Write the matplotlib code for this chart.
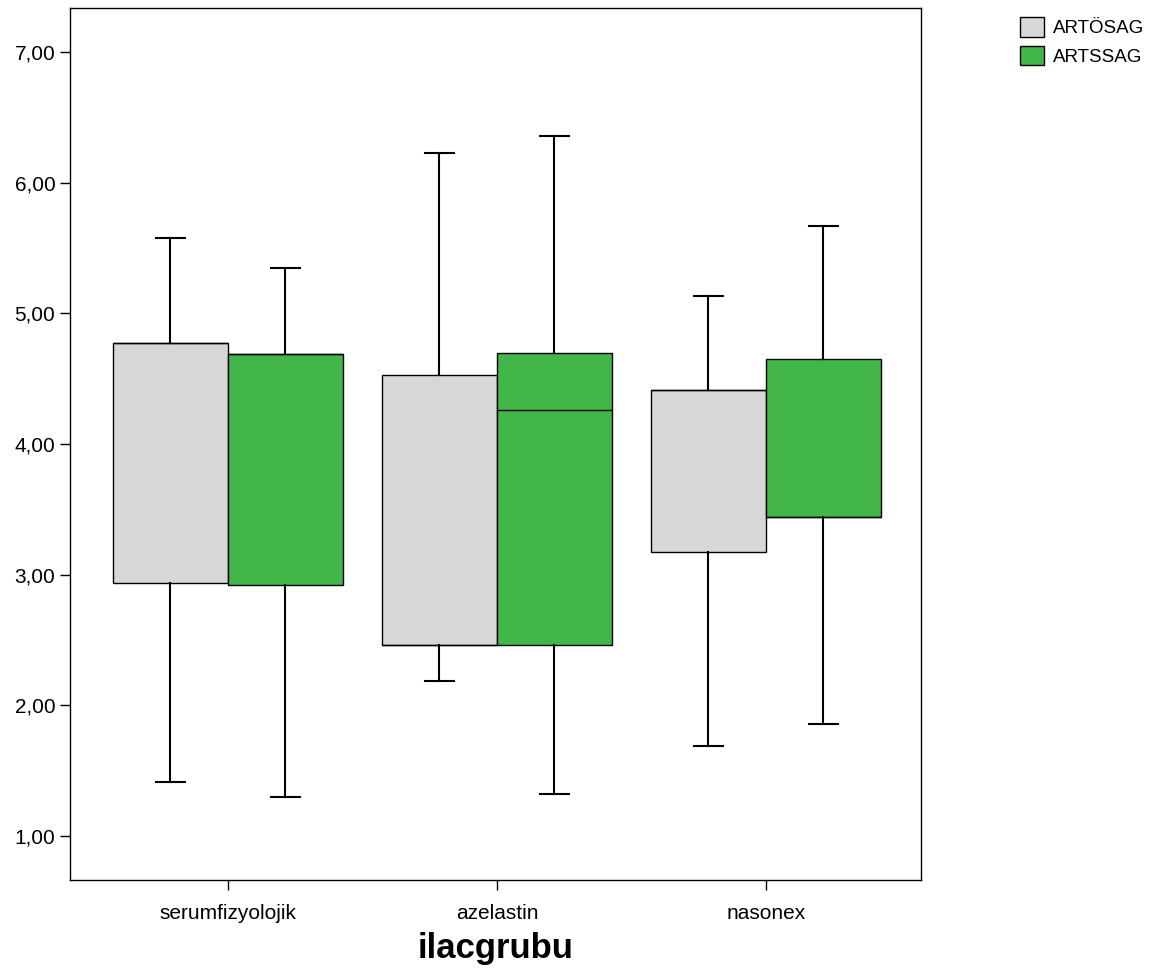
import matplotlib.pyplot as plt
from matplotlib.patches import Patch

plt.rcParams['font.family'] = ['Liberation Sans', 'DejaVu Sans']

groups = ["serumfizyolojik", "azelastin", "nasonex"]
series = ["ARTÖSAG", "ARTSSAG"]
colors = ["#d7d7d7", "#43b649"]

# per group: [whislo, q1, med, q3, whishi]
artosag = [[1.41, 2.94, 4.77, 4.77, 5.58],
           [2.19, 2.46, 2.46, 4.53, 6.23],
           [1.69, 3.17, 4.41, 4.41, 5.13]]
artssag = [[1.30, 2.92, 4.69, 4.69, 5.35],
           [1.32, 2.46, 4.26, 4.70, 6.36],
           [1.86, 3.44, 3.44, 4.65, 5.67]]

yticks = [1, 2, 3, 4, 5, 6, 7]
ytick_labels = ["1,00", "2,00", "3,00", "4,00", "5,00", "6,00", "7,00"]


def stats(rows):
    out = []
    for lo, q1, med, q3, hi in rows:
        out.append(dict(whislo=lo, q1=q1, med=med, q3=q3, whishi=hi, fliers=[]))
    return out


fig = plt.figure(figsize=(11.72, 9.69), dpi=100)
ax = fig.add_axes([0.0597, 0.0918, 0.7261, 0.8999])

width = 0.4275
centers = [1, 2, 3]
for k, data in enumerate([artosag, artssag]):
    off = -width / 2 if k == 0 else width / 2
    pos = [c + off for c in centers]
    ax.bxp(stats(data), positions=pos, widths=width, patch_artist=True,
           showfliers=False, capwidths=0.11,
           boxprops=dict(facecolor=colors[k], edgecolor="black", linewidth=1),
           medianprops=dict(color="black", linewidth=1),
           whiskerprops=dict(color="black", linewidth=1.5),
           capprops=dict(color="black", linewidth=1.5))

ax.set_xlim(0.413, 3.576)
ax.set_ylim(0.663, 7.337)
ax.set_xticks(centers)
ax.set_xticklabels(groups, fontsize=15)
ax.set_yticks(yticks)
ax.set_yticklabels(ytick_labels, fontsize=15)
ax.tick_params(direction="out", length=7, width=1)
ax.tick_params(axis="x", pad=10)
for s in ax.spines.values():
    s.set_linewidth(1)
ax.set_xlabel("ilacgrubu", fontsize=25, fontweight="bold", labelpad=7)

handles = [Patch(facecolor=colors[i], edgecolor="black", linewidth=1) for i in range(2)]
fig.legend(handles, series, loc="upper left", bbox_to_anchor=(0.856, 1.0),
           frameon=False, fontsize=13.5, handlelength=1.25, handleheight=1.25,
           handletextpad=0.5, labelspacing=0.45)

fig.savefig("out.png", dpi=100)
